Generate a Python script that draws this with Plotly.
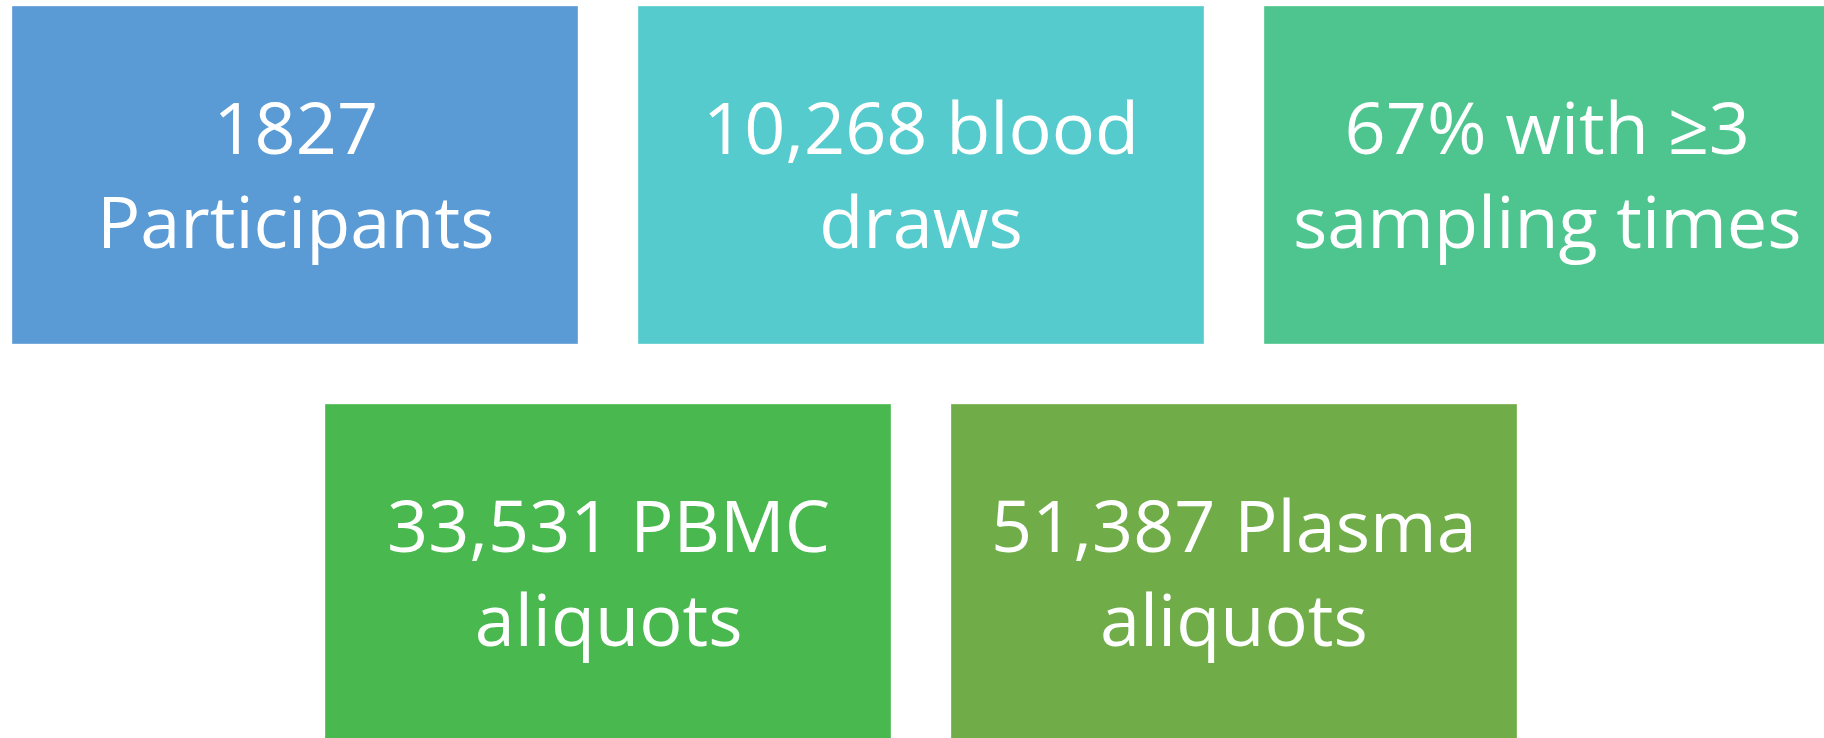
import plotly.graph_objects as go

labels = [
    "1827<br>Participants",
    "10,268 blood<br>draws",
    "67% with ≥3<br>sampling times",
    "33,531 PBMC<br>aliquots",
    "51,387 Plasma<br>aliquots",
]
colors = ["#5B9BD5", "#56CBCD", "#4EC58E", "#49B94F", "#70AC47"]
rows = [0, 0, 0, 1, 1]
cols = [0, 1, 2, 0.5, 1.5]

W, H = 1824, 738
box_w, box_h = 566, 338
x0, y0 = 12, 6
dx, dy = 626, 398

fig = go.Figure()
for lab, c, r, k in zip(labels, colors, rows, cols):
    xa = x0 + k * dx
    ya = y0 + r * dy
    fig.add_shape(type="rect", x0=xa, x1=xa + box_w, y0=ya, y1=ya + box_h,
                  xref="x", yref="y", fillcolor=c,
                  line=dict(color="rgba(255,255,255,0.35)", width=1), layer="below")
    fig.add_annotation(x=xa + box_w / 2, y=ya + box_h / 2 - 2, xref="x", yref="y",
                       text=lab, showarrow=False,
                       font=dict(family="Open Sans", size=72, color="white"))

fig.update_xaxes(range=[0, W], visible=False, fixedrange=True)
fig.update_yaxes(range=[H, 0], visible=False, fixedrange=True)
fig.update_layout(width=W, height=H, margin=dict(l=0, r=0, t=0, b=0),
                  plot_bgcolor="white", paper_bgcolor="white", showlegend=False)
fig.write_html("out.html", config={"displayModeBar": False},
               post_script="document.body.style.margin='0';document.body.style.overflow='hidden';")
